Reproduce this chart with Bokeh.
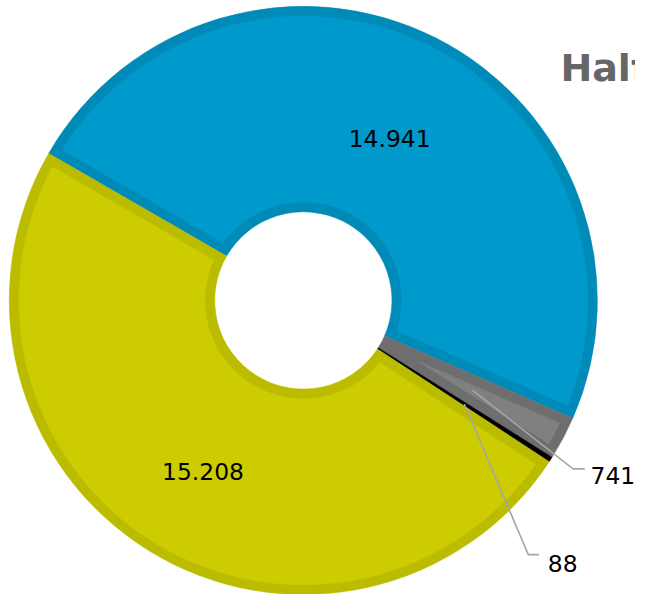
import numpy as np
from bokeh.plotting import figure
from bokeh.models import Range1d
from bokeh.embed import file_html
from bokeh.resources import INLINE
from bokeh.core.properties import value

# ---------------- data ----------------
categories = ["Serie A", "Serie B", "Serie C", "Serie D"]
values = [14941, 741, 88, 15208]
fill_colors = ["#0099CC", "#808080", "#000000", "#CCCC00"]
border_colors = ["#008AB8", "#6E6E6E", "#000000", "#BBBB00"]
title_text = "Half"

# ---------------- layout ----------------
W, H = 635, 594
REF_W, REF_H = 651, 610
S = H / REF_H                          # uniform scale so the whole reference fits
CX, CY = 311.0, REF_H - 308.0          # pie centre (data units == reference pixels)
R_OUT, R_IN = 302.0, 91.0
BORDER = 10.0
START = np.deg2rad(150.0)              # first slice starts here, clockwise
LABEL_R = 196.5                        # radius of inner labels / connector start
FONT = "DejaVu Sans"
FS = 24
DIGIT_HALF = 0.729 * FS / 2

# outer label anchors (elbow point, line end, text position) by category index
outer_layout = {
    1: dict(elbow=(588, REF_H - 481), end=(600, REF_H - 481), text=(606, REF_H - 488)),
    2: dict(elbow=(542, REF_H - 569), end=(553, REF_H - 569), text=(562, REF_H - 578)),
}

p = figure(width=W, height=H, output_backend="svg", toolbar_location=None,
           x_range=Range1d(0, W / S), y_range=Range1d(0, REF_H),
           min_border=0)
p.axis.visible = False
p.grid.visible = False
p.outline_line_color = None
p.background_fill_color = "white"
p.border_fill_color = "white"

vals = np.array(values, dtype=float)
frac = vals / vals.sum()
ends = START - np.cumsum(frac) * 2 * np.pi
starts = np.concatenate([[START], ends[:-1]])

# dark full slices (border colour)
p.annular_wedge(x=[CX] * len(vals), y=[CY] * len(vals), inner_radius=R_IN, outer_radius=R_OUT,
                start_angle=list(starts), end_angle=list(ends), direction="clock",
                fill_color=border_colors, line_color=border_colors, line_width=0.5)

# lighter inset fill polygons
def inset_polygon(ta, tb, ri, ro, b, n=160):
    span = ta - tb
    ro2, ri2 = ro - b, ri + b
    da_o = np.arcsin(min(1.0, b / ro2))
    a1, a2 = ta - da_o, tb + da_o
    if a1 <= a2:
        return None
    outer = np.linspace(a1, a2, n)
    xs = list(CX + ro2 * np.cos(outer))
    ys = list(CY + ro2 * np.sin(outer))
    d = b / np.sin(span / 2) if span < np.pi else 0.0
    if d > ri2:
        mid = (ta + tb) / 2
        xs.append(CX + d * np.cos(mid))
        ys.append(CY + d * np.sin(mid))
    else:
        da_i = np.arcsin(min(1.0, b / ri2))
        inner = np.linspace(tb + da_i, ta - da_i, n)
        xs += list(CX + ri2 * np.cos(inner))
        ys += list(CY + ri2 * np.sin(inner))
    return xs, ys

pxs, pys, pcs = [], [], []
for i in range(len(vals)):
    poly = inset_polygon(starts[i], ends[i], R_IN, R_OUT, BORDER)
    if poly is not None:
        pxs.append(poly[0]); pys.append(poly[1]); pcs.append(fill_colors[i])
p.patches(xs=pxs, ys=pys, fill_color=pcs, line_color=pcs, line_width=0.5)

def fmt(v):
    return f"{int(v):,}".replace(",", ".")

fs_px = f"{FS * S:.1f}px"

# inner labels
in_x, in_y, in_t = [], [], []
for i in range(len(vals)):
    if i in outer_layout:
        continue
    mid = (starts[i] + ends[i]) / 2
    in_x.append(CX + LABEL_R * np.cos(mid))
    in_y.append(CY + LABEL_R * np.sin(mid) - DIGIT_HALF)
    in_t.append(fmt(vals[i]))
p.text(x=in_x, y=in_y, text=in_t, text_font=value(FONT), text_font_size=fs_px,
       text_color="#000000", text_align="center", text_baseline="alphabetic")

# outer labels with connectors
out_x, out_y, out_t = [], [], []
for i, lay in outer_layout.items():
    mid = (starts[i] + ends[i]) / 2
    sx, sy = CX + LABEL_R * np.cos(mid), CY + LABEL_R * np.sin(mid)
    p.line(x=[sx, lay["elbow"][0], lay["end"][0]], y=[sy, lay["elbow"][1], lay["end"][1]],
           line_color="#A6A6A6", line_width=1.6)
    out_x.append(lay["text"][0]); out_y.append(lay["text"][1]); out_t.append(fmt(vals[i]))
p.text(x=out_x, y=out_y, text=out_t, text_font=value(FONT), text_font_size=fs_px,
       text_color="#000000", text_align="left", text_baseline="alphabetic")

# title (cut off at the right edge as in the reference)
p.text(x=[575], y=[REF_H - 69.3], text=[title_text], text_font=value(FONT),
       text_font_size=f"{39 * S:.1f}px", text_font_style="bold", text_color="#666666",
       text_align="left", text_baseline="alphabetic")

open("out.html", "w").write(file_html(p, INLINE))
